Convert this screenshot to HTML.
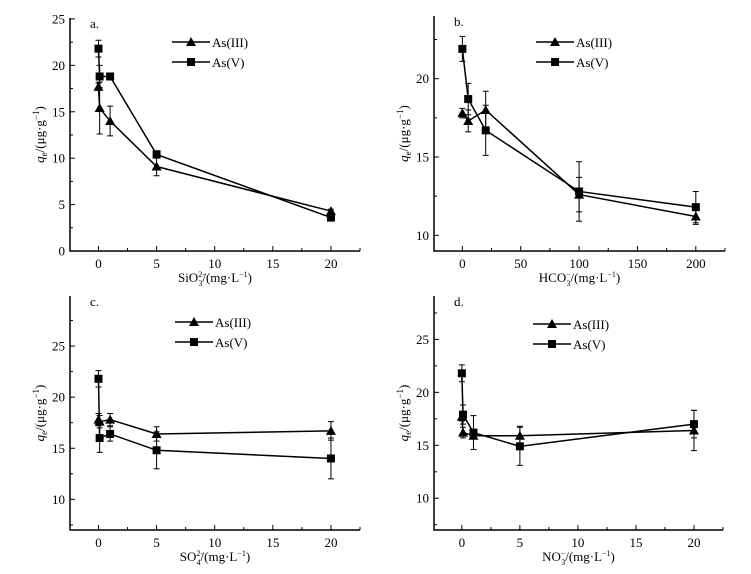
<!DOCTYPE html>
<html><head><meta charset="utf-8"><style>
html,body{margin:0;padding:0;background:#fff;}
svg{display:block;font-family:"Liberation Serif",serif;}
</style></head><body>
<svg id="chart" width="751" height="574" viewBox="0 0 751 574"></svg>
<script>
// Panel a: SiO3
const xA = [0, 0.1, 1, 5, 20];
const a3 = [17.7, 15.4, 14.0, 9.1, 4.3];
const a3e = [0.4, 2.8, 1.6, 1.0, 0.2];
const a5 = [21.8, 18.8, 18.8, 10.4, 3.6];
const a5e = [0.9, 1.2, 0.2, 0.4, 0.2];
const xTicksA = [0, 5, 10, 15, 20];
const yTicksA = [0, 5, 10, 15, 20, 25];
// Panel b: HCO3
const xB = [0, 5, 20, 100, 200];
const b3 = [17.8, 17.3, 18.0, 12.6, 11.2];
const b3e = [0.3, 0.7, 1.2, 1.1, 0.5];
const b5 = [21.9, 18.7, 16.7, 12.8, 11.8];
const b5e = [0.8, 1.0, 1.6, 1.9, 1.0];
const xTicksB = [0, 50, 100, 150, 200];
const yTicksB = [10, 15, 20];
// Panel c: SO4
const xC = [0, 0.1, 1, 5, 20];
const c3 = [17.8, 17.6, 17.8, 16.4, 16.7];
const c3e = [0.6, 0.6, 0.6, 0.7, 0.9];
const c5 = [21.8, 16.0, 16.4, 14.8, 14.0];
const c5e = [0.8, 1.4, 0.7, 1.8, 2.0];
const xTicksC = [0, 5, 10, 15, 20];
const yTicksC = [10, 15, 20, 25];
// Panel d: NO3
const xD = [0, 0.1, 1, 5, 20];
const d3 = [17.7, 16.2, 15.9, 15.9, 16.4];
const d3e = [0.4, 0.5, 0.3, 0.9, 1.9];
const d5 = [21.8, 17.9, 16.2, 14.9, 17.0];
const d5e = [0.8, 0.9, 1.6, 1.8, 1.3];
const xTicksD = [0, 5, 10, 15, 20];
const yTicksD = [10, 15, 20, 25];

const NS = "http://www.w3.org/2000/svg";
const svg = document.getElementById("chart");
function mk(tag, attrs, parent) {
  const e = document.createElementNS(NS, tag);
  for (const k in attrs) e.setAttribute(k, attrs[k]);
  (parent || svg).appendChild(e);
  return e;
}

function panel(p) {
  const g = mk("g", {});
  
  
  const sx = v => p.L + (v - p.x0) / (p.x1 - p.x0) * (p.R - p.L);
  const sy = v => p.B - (v - p.y0) / (p.y1 - p.y0) * (p.B - p.T);
  const ax = mk("path", {d: `M${p.L},${p.T}V${p.B}H${p.R}`, fill: "none", stroke: "#000", "stroke-width": 1.5}, g);
  
  
  const ystep = p.yTicks[1] - p.yTicks[0];
  for (let v = p.yTicks[0] - ystep / 2; v <= p.y1; v += ystep / 2) {
    if (v < p.y0) continue;
    const major = p.yTicks.includes(Math.round(v * 10) / 10);
    mk("line", {x1: p.L, x2: p.L + (major ? 5 : 3), y1: sy(v), y2: sy(v), stroke: "#000", "stroke-width": 1}, g);
  }
  p.yTicks.forEach(v => {
    const t = mk("text", {x: p.L - 5, y: sy(v) + 4.5, "text-anchor": "end", "font-size": 13}, g);
    t.textContent = v;
    
    
  });
  const xstep = p.xTicks[1] - p.xTicks[0];
  for (let v = p.xTicks[0] - xstep / 2; v <= p.x1; v += xstep / 2) {
    if (v < p.x0) continue;
    const major = p.xTicks.includes(v);
    mk("line", {x1: sx(v), x2: sx(v), y1: p.B, y2: p.B - (major ? 5 : 3), stroke: "#000", "stroke-width": 1}, g);
  }
  p.xTicks.forEach(v => {
    const t = mk("text", {x: sx(v), y: p.B + 17, "text-anchor": "middle", "font-size": 13}, g);
    t.textContent = v;
    
    
  });
  const series = [[p.s3, p.e3, "tri", "as3"], [p.s5, p.e5, "sq", "as5"]];
  series.forEach(([ys, es, m, nm]) => {
    ys.forEach((v, i) => {
      const x = sx(p.xs[i]);
      const eb = mk("path", {d: `M${x},${sy(v + es[i])}V${sy(v - es[i])}M${x - 3},${sy(v + es[i])}h6M${x - 3},${sy(v - es[i])}h6`, stroke: "#000", "stroke-width": 1, fill: "none"}, g);
      
      
    });
    const ln = mk("polyline", {points: ys.map((v, i) => sx(p.xs[i]) + "," + sy(v)).join(" "), fill: "none", stroke: "#000", "stroke-width": 1.5}, g);
    
    
    ys.forEach((v, i) => {
      const x = sx(p.xs[i]), y = sy(v);
      let mkEl;
      if (m === "tri") mkEl = mk("path", {d: `M${x},${y - 5}L${x + 5},${y + 4}L${x - 5},${y + 4}Z`, fill: "#000"}, g);
      else mkEl = mk("rect", {x: x - 4, y: y - 4, width: 8, height: 8, fill: "#000"}, g);
      
      
    });
  });
  [["As(III)", "tri", p.ly], ["As(V)", "sq", p.ly + 20]].forEach(([lbl, m, y]) => {
    const lg = mk("g", {}, g);
    
    
    mk("line", {x1: p.lx, x2: p.lx + 38, y1: y, y2: y, stroke: "#000", "stroke-width": 1.5}, lg);
    const cx = p.lx + 19;
    if (m === "tri") mk("path", {d: `M${cx},${y - 5}L${cx + 5},${y + 4}L${cx - 5},${y + 4}Z`, fill: "#000"}, lg);
    else mk("rect", {x: cx - 4, y: y - 4, width: 8, height: 8, fill: "#000"}, lg);
    const t = mk("text", {x: p.lx + 40, y: y + 5, "font-size": 13}, lg);
    t.textContent = lbl;
  });
  const pl = mk("text", {x: p.L + 20, y: p.T + 10, "font-size": 13}, g);
  pl.textContent = p.id + ".";
  
  
  const cy = (p.T + p.B) / 2;
  const yt = mk("text", {x: 0, y: 0, "font-size": 13, "text-anchor": "middle", transform: `translate(${p.L - 26},${cy}) rotate(-90)`}, g);
  yt.innerHTML = '<tspan font-style="italic">q</tspan><tspan font-size="9" dy="3">e</tspan><tspan dy="-3">/(μg·g</tspan><tspan font-size="9" dy="-5">−1</tspan><tspan dy="5">)</tspan>';
  
  
  const xt = mk("text", {x: (p.L + p.R) / 2, y: p.B + 31, "font-size": 13, "text-anchor": "middle"}, g);
  xt.innerHTML = p.xlab;
  
  
}

const sub = (ion, sp, sb) => ion + '<tspan font-size="8" dy="-5">' + sp + '</tspan><tspan font-size="8" dx="-' + (sp.length * 4.2) + '" dy="9">' + sb + '</tspan><tspan dy="-4">/(mg·L</tspan><tspan font-size="8" dy="-5">−1</tspan><tspan dy="5">)</tspan>';

panel({id: "a", L: 70, R: 360, T: 18, B: 251, x0: -2.45, x1: 22.5, y0: 0, y1: 25.1,
  xs: xA, s3: a3, e3: a3e, s5: a5, e5: a5e, xTicks: xTicksA, yTicks: yTicksA, lx: 172, ly: 42, xlab: sub("SiO", "2−", "3")});
panel({id: "b", L: 434, R: 725, T: 16, B: 251, x0: -24.3, x1: 225, y0: 9, y1: 24,
  xs: xB, s3: b3, e3: b3e, s5: b5, e5: b5e, xTicks: xTicksB, yTicks: yTicksB, lx: 536, ly: 42, xlab: sub("HCO", "−", "3")});
panel({id: "c", L: 70, R: 360, T: 296, B: 530, x0: -2.45, x1: 22.5, y0: 7, y1: 29.9,
  xs: xC, s3: c3, e3: c3e, s5: c5, e5: c5e, xTicks: xTicksC, yTicks: yTicksC, lx: 175, ly: 322, xlab: sub("SO", "2−", "4")});
panel({id: "d", L: 434, R: 723, T: 296, B: 530, x0: -2.4, x1: 22.5, y0: 7, y1: 29.1,
  xs: xD, s3: d3, e3: d3e, s5: d5, e5: d5e, xTicks: xTicksD, yTicks: yTicksD, lx: 533, ly: 324, xlab: sub("NO", "−", "3")});
</script>
</body></html>
